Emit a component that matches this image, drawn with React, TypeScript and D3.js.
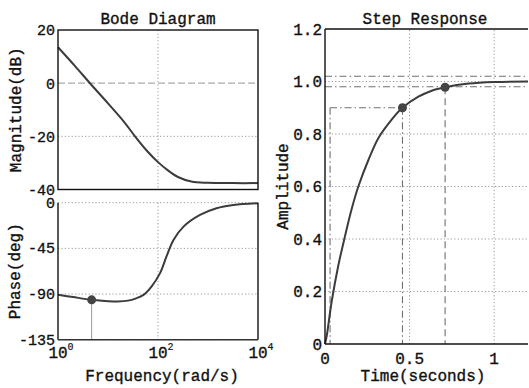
import React from "react";
import * as d3 from "d3";

// ---- Data ----
const magFreq = [1, 2.15, 4.64, 10, 21.5, 34.7, 63.1, 100, 158, 251, 464, 1000, 3162, 10000];
const magDb = [13.5, 6.6, -0.6, -7.6, -14.8, -20.0, -25.9, -29.7, -32.8, -35.3, -37.0, -37.5, -37.6, -37.6];

const phaseFreq = [1, 2.0, 4.71, 10, 15.8, 25.1, 35.5, 51.3, 74.1, 110, 148, 204, 324, 692, 1479, 3236, 10000];
const phaseDeg = [-90.7, -93, -95.7, -97, -97.3, -96.5, -94.5, -90.8, -82.6, -69.4, -53, -36.7, -23.6, -12.1, -5.5, -2.3, -0.5];
const phaseMarker = { f: 4.71, p: -95.7 };

const stepTime = [0, 0.01, 0.039, 0.079, 0.118, 0.158, 0.197, 0.256, 0.316, 0.394, 0.458, 0.552, 0.631, 0.71, 0.85, 1.0, 1.2];
const stepAmp = [0, 0.03, 0.16, 0.3, 0.41, 0.515, 0.6, 0.7, 0.785, 0.855, 0.9, 0.942, 0.965, 0.978, 0.992, 0.998, 1.0];
const riseStart = 0.03;
const riseEnd = { t: 0.458, a: 0.9 };
const settle = { t: 0.71, a: 0.978 };
const settleBand = [0.98, 1.02];

const magTicks = [20, 0, -20, -40];
const phaseTicks = [0, -45, -90, -135];
const freqTicks = [1, 100, 10000];
const freqExp = ["0", "2", "4"];
const ampTicks = [0, 0.2, 0.4, 0.6, 0.8, 1.0, 1.2];
const ampTickLabels = ["0", "0.2", "0.4", "0.6", "0.8", "1.0", "1.2"];
const timeTicks = [0, 0.5, 1];
const timeTickLabels = ["0", "0.5", "1"];

const FONT = "'Liberation Mono', 'DejaVu Sans Mono', monospace";
const CURVE = "#3c3c3c";
const GRID = "#9a9a9a";
const REF = "#707070";
const TXT = { fill: "#111", stroke: "#111", strokeWidth: 0.35 };

export default function App() {
  const xF = d3.scaleLog().domain([1, 10000]).range([58, 258]);
  const yMag = d3.scaleLinear().domain([20, -40]).range([30, 189.5]);
  const yPh = d3.scaleLinear().domain([0, -135]).range([202.7, 339.7]);
  const xT = d3.scaleLinear().domain([0, 1.2]).range([325, 528]);
  const yA = d3.scaleLinear().domain([0, 1.2]).range([344, 29]);

  const smooth = d3.curveCatmullRom.alpha(0.5);
  const magLine = d3
    .line<number>()
    .x((_, i) => xF(magFreq[i]))
    .y((d) => yMag(d))
    .curve(smooth)(magDb) as string;
  const phLine = d3
    .line<number>()
    .x((_, i) => xF(phaseFreq[i]))
    .y((d) => yPh(d))
    .curve(smooth)(phaseDeg) as string;
  const stepLine = d3
    .line<number>()
    .x((_, i) => xT(stepTime[i]))
    .y((d) => yA(d))
    .curve(smooth)(stepAmp) as string;

  const dot = "1.2,2.2";
  const dashDot = "7,3,1.5,3";

  return (
    <svg
      width={529}
      height={388}
      style={{ position: "absolute", left: 0, top: 0, background: "#fff" }}
      fontFamily={FONT}
    >
      <rect width={529} height={388} fill="#fff" />

      {/* ---------- Magnitude axes ---------- */}
      <line x1={xF(100)} x2={xF(100)} y1={yMag(20)} y2={yMag(-40)} stroke={GRID} strokeDasharray={dot} />
      <line x1={xF(1)} x2={xF(10000)} y1={yMag(0)} y2={yMag(0)} stroke="#aaa" strokeWidth={1.2} strokeDasharray="7,3" />
      <line x1={xF(1)} x2={xF(10000)} y1={yMag(-20)} y2={yMag(-20)} stroke={GRID} strokeDasharray={dot} />
      <path d={magLine} fill="none" stroke={CURVE} strokeWidth={2} />
      <rect x={xF(1)} y={yMag(20)} width={xF(10000) - xF(1)} height={yMag(-40) - yMag(20)} fill="none" stroke="#111" strokeWidth={1.4} />
      {magTicks.map((t) => (
        <text key={"m" + t} x={55} y={yMag(t)} dy="0.36em" textAnchor="end" fontSize={15} {...TXT}>
          {t < 0 ? "-" + Math.abs(t) : String(t)}
        </text>
      ))}
      <text x={158} y={24} textAnchor="middle" fontSize={16} {...TXT}>Bode Diagram</text>
      <text transform={`translate(21,${(yMag(20) + yMag(-40)) / 2}) rotate(-90)`} textAnchor="middle" fontSize={16} {...TXT}>
        Magnitude(dB)
      </text>

      {/* ---------- Phase axes ---------- */}
      <line x1={xF(100)} x2={xF(100)} y1={yPh(0)} y2={yPh(-135)} stroke={GRID} strokeDasharray={dot} />
      {phaseTicks.map((t) => (
        <line key={"pg" + t} x1={xF(1)} x2={xF(10000)} y1={yPh(t)} y2={yPh(t)} stroke={GRID} strokeDasharray={dot} />
      ))}
      <line x1={xF(phaseMarker.f)} x2={xF(phaseMarker.f)} y1={yPh(phaseMarker.p)} y2={yPh(-135)} stroke="#999" strokeWidth={1} />
      <path d={phLine} fill="none" stroke={CURVE} strokeWidth={2} />
      <circle cx={xF(phaseMarker.f)} cy={yPh(phaseMarker.p)} r={4.5} fill="#444" />
      <line x1={xF(1)} x2={xF(1)} y1={yPh(0)} y2={yPh(-135)} stroke="#111" strokeWidth={1.4} />
      <line x1={xF(10000)} x2={xF(10000)} y1={yPh(0)} y2={yPh(-135)} stroke="#111" strokeWidth={1.4} />
      <line x1={xF(1)} x2={xF(10000)} y1={yPh(-135)} y2={yPh(-135)} stroke="#333" strokeWidth={1.4} />
      {phaseTicks.map((t) => (
        <text key={"p" + t} x={55} y={yPh(t)} dy="0.34em" textAnchor="end" fontSize={15} {...TXT}>
          {t < 0 ? "-" + Math.abs(t) : String(t)}
        </text>
      ))}
      {freqTicks.map((f, i) => (
        <g key={"f" + f}>
          <text x={xF(f)} y={358} textAnchor="middle" fontSize={16} {...TXT}>10</text>
          <text x={xF(f) + 9.5} y={350} fontSize={10} {...TXT} strokeWidth={0.2}>{freqExp[i]}</text>
        </g>
      ))}
      <text x={162} y={381} textAnchor="middle" fontSize={16} {...TXT}>Frequency(rad/s)</text>
      <text transform={`translate(20,${(yPh(0) + yPh(-135)) / 2}) rotate(-90)`} textAnchor="middle" fontSize={16} {...TXT}>
        Phase(deg)
      </text>

      {/* ---------- Step response axes ---------- */}
      {timeTicks.slice(1).map((t) => (
        <line key={"tg" + t} x1={xT(t)} x2={xT(t)} y1={yA(0)} y2={yA(1.2)} stroke={GRID} strokeDasharray={dot} />
      ))}
      {ampTicks.slice(1, 6).map((a) => (
        <line key={"ag" + a} x1={xT(0)} x2={xT(1.2)} y1={yA(a)} y2={yA(a)} stroke={GRID} strokeDasharray={dot} />
      ))}
      {settleBand.map((a) => (
        <line key={"sb" + a} x1={xT(0)} x2={xT(1.2)} y1={yA(a)} y2={yA(a)} stroke={REF} strokeWidth={1.1} strokeDasharray={dashDot} />
      ))}
      <line x1={xT(riseStart)} x2={xT(riseEnd.t)} y1={yA(riseEnd.a)} y2={yA(riseEnd.a)} stroke={REF} strokeWidth={1.1} strokeDasharray={dashDot} />
      <line x1={xT(riseStart)} x2={xT(riseStart)} y1={yA(riseEnd.a)} y2={yA(0)} stroke={REF} strokeWidth={1.1} strokeDasharray={dashDot} />
      <line x1={xT(riseEnd.t)} x2={xT(riseEnd.t)} y1={yA(riseEnd.a)} y2={yA(0)} stroke={REF} strokeWidth={1.1} strokeDasharray={dashDot} />
      <line x1={xT(settle.t)} x2={xT(settle.t)} y1={yA(settle.a)} y2={yA(0)} stroke={REF} strokeWidth={1.1} strokeDasharray="7,4" />
      <path d={stepLine} fill="none" stroke={CURVE} strokeWidth={2} />
      <circle cx={xT(riseEnd.t)} cy={yA(riseEnd.a)} r={4.5} fill="#444" />
      <circle cx={xT(settle.t)} cy={yA(settle.a)} r={4.5} fill="#444" />
      <line x1={xT(0)} x2={xT(0)} y1={yA(0)} y2={yA(1.2)} stroke="#111" strokeWidth={1.4} />
      <line x1={xT(0)} x2={xT(1.2)} y1={yA(1.2)} y2={yA(1.2)} stroke="#111" strokeWidth={1.4} />
      <line x1={xT(0)} x2={xT(1.2)} y1={yA(0)} y2={yA(0)} stroke="#111" strokeWidth={1.4} />
      {ampTicks.map((a, i) => (
        <text key={"a" + a} x={322} y={yA(a)} dy="0.36em" textAnchor="end" fontSize={16} {...TXT}>
          {ampTickLabels[i]}
        </text>
      ))}
      {timeTicks.map((t, i) => (
        <text key={"t" + t} x={xT(t)} y={364} textAnchor="middle" fontSize={16} {...TXT}>
          {timeTickLabels[i]}
        </text>
      ))}
      <text x={425} y={24} textAnchor="middle" fontSize={16} {...TXT}>Step Response</text>
      <text x={423} y={381} textAnchor="middle" fontSize={16} {...TXT}>Time(seconds)</text>
      <text transform={`translate(288,${(yA(0) + yA(1.2)) / 2}) rotate(-90)`} textAnchor="middle" fontSize={16} {...TXT}>
        Amplitude
      </text>
    </svg>
  );
}
